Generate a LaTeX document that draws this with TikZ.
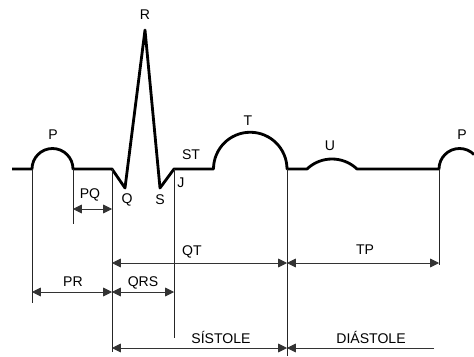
\documentclass[tikz,border=0pt]{standalone}
\usepackage{fontspec}
\setmainfont{Liberation Sans}
\usetikzlibrary{arrows.meta}

\begin{document}
\begin{tikzpicture}[
  x=0.03cm, y=0.03cm,
  font=\fontsize{12}{14}\selectfont,
  traza/.style={draw=black, line width=2.4pt, line join=round},
  guia/.style={draw=black!85, line width=0.7pt},
  punta/.tip={Triangle[length=7.5pt, width=7.5pt]},
  cota/.style={draw=black!80, line width=0.6pt, punta-punta},
  etiqueta/.style={inner sep=1pt}
]
\useasboundingbox (0,0) rectangle (474,356);

%--------------------------------------------------------------
% Trazado del ECG
%--------------------------------------------------------------
\coordinate (inicio) at (12,187);
\coordinate (Pini) at (32,187);
\coordinate (Pfin) at (73,187);
\coordinate (Qini) at (112,187);
\coordinate (Q) at (125,168);
\coordinate (R) at (145,326);
\coordinate (S) at (160,168);
\coordinate (J) at (174,187);
\coordinate (Tini) at (213.5,187);
\coordinate (Tfin) at (287,187);
\coordinate (Uini) at (307,187);
\coordinate (P2ini) at (439,187);

\draw[traza] (inicio) -- (Pini) arc[start angle=180, end angle=0, radius=20.5]
  -- (Qini) -- (Q) -- (R) -- (S) -- (J)
  -- (Tini) arc[start angle=180, end angle=0, radius=36.75]
  -- (Uini) arc[start angle=133.6, end angle=46.4, radius=36.25]
  -- (P2ini) arc[start angle=180, end angle=45, radius=20.5];

% nombres de las ondas
\node[etiqueta] (lblP) at (53,221) {P};
\node[etiqueta] (lblR) at (145,341) {R};
\node[etiqueta] (lblQ) at (127,156) {Q};
\node[etiqueta] (lblS) at (160,156) {S};
\node[etiqueta] (lblJ) at (181,173) {J};
\node[etiqueta] (lblST) at (191,201) {ST};
\node[etiqueta] (lblT) at (248,235) {T};
\node[etiqueta] (lblU) at (330,210) {U};
\node[etiqueta] (lblP2) at (462,221) {P};

%--------------------------------------------------------------
% Lineas de referencia
%--------------------------------------------------------------
\coordinate (nPQ) at (0,147);
\coordinate (nQT) at (0,93);
\coordinate (nPR) at (0,64);
\coordinate (nSis) at (0,8);

\draw[guia] (Pini) -- (Pini |- 0,53);
\draw[guia] (Pfin) -- (Pfin |- 0,132);
\draw[guia] (Qini) -- (Qini |- 0,4);
\draw[guia] (J) -- (J |- 0,18);
\draw[guia] (Tfin) -- (Tfin |- 0,0);
\draw[guia] (P2ini) -- (P2ini |- 0,91);

%--------------------------------------------------------------
% Intervalos
%--------------------------------------------------------------
\draw[cota] (Pfin |- nPQ) -- (Qini |- nPQ);
\node[etiqueta] (PQ) at (90,161) {PQ};

\draw[cota] (Pini |- nPR) -- (Qini |- nPR);
\node[etiqueta] (PR) at (73,74) {PR};
\draw[cota] (Qini |- nPR) -- (J |- nPR);
\node[etiqueta] (QRS) at (143,73) {QRS};

\draw[cota] (Qini |- nQT) -- (Tfin |- nQT);
\node[etiqueta] (QT) at (192,104) {QT};
\draw[cota] (Tfin |- nQT) -- (P2ini |- nQT);
\node[etiqueta] (TP) at (365,106) {TP};

\draw[cota] (Qini |- nSis) -- (Tfin |- nSis);
\node[etiqueta] (sistole) at (221,19) {SÍSTOLE};
\draw[cota, -punta] (434,8) -- (Tfin |- nSis);
\node[etiqueta] (diastole) at (371,19) {DIÁSTOLE};

\end{tikzpicture}
\end{document}
